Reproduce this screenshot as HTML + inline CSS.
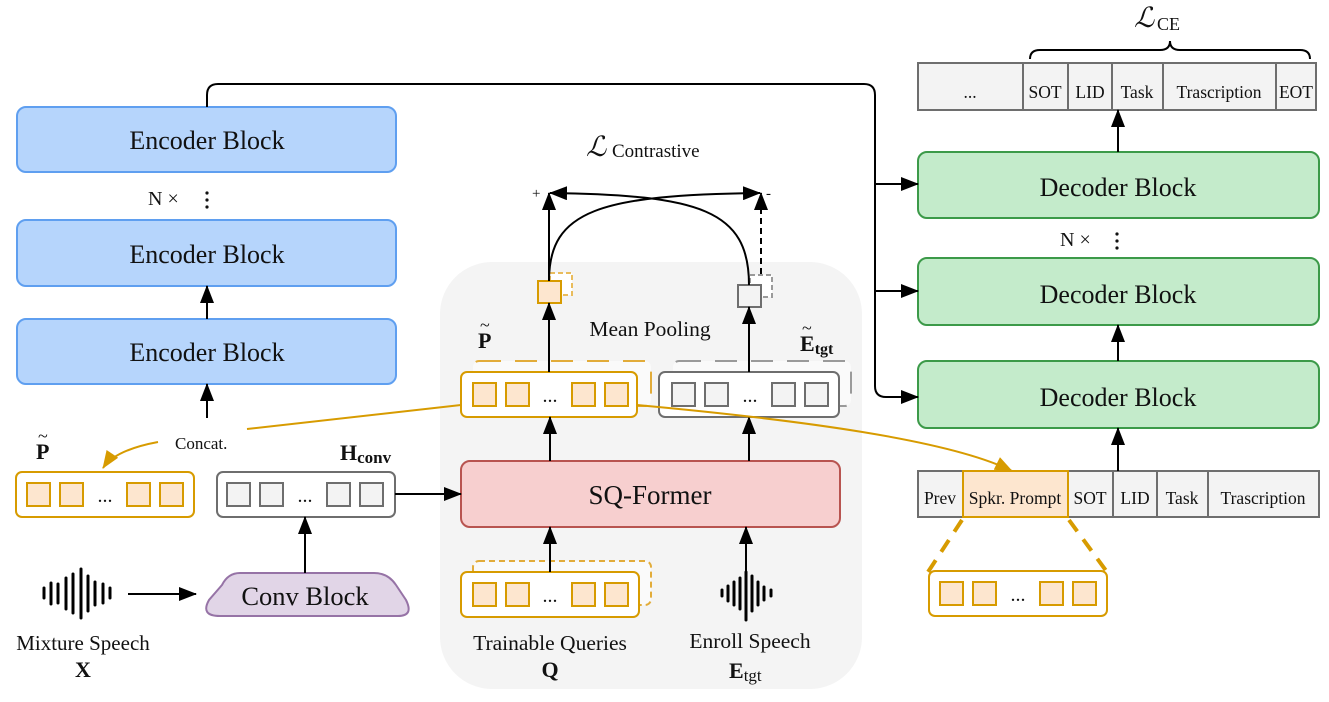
<!DOCTYPE html>
<html><head><meta charset="utf-8"><style>
html,body{margin:0;padding:0;background:#fff}
svg{display:block}
text{font-family:"Liberation Serif",serif;fill:#111}
</style></head><body>
<svg width="1329" height="702" viewBox="0 0 1329 702" xmlns="http://www.w3.org/2000/svg">
<defs>
<marker id="ab" markerWidth="18" markerHeight="14" refX="17" refY="7" orient="auto" markerUnits="userSpaceOnUse" viewBox="0 0 18 14"><path d="M0,0 L18,7 L0,14 z" fill="#000"/></marker>
<marker id="ao" markerWidth="18" markerHeight="14" refX="17" refY="7" orient="auto" markerUnits="userSpaceOnUse" viewBox="0 0 18 14"><path d="M0,0 L18,7 L0,14 z" fill="#d79b00"/></marker>
</defs>

<rect x="440" y="262" width="422" height="427" rx="52" fill="#f4f4f4"/>

<g fill="#b6d5fc" stroke="#5f9ff0" stroke-width="2">
<rect x="17" y="107" width="379" height="65" rx="9"/>
<rect x="17" y="220" width="379" height="66" rx="9"/>
<rect x="17" y="319" width="379" height="65" rx="9"/>
</g>
<g font-size="26" text-anchor="middle">
<text x="207" y="149">Encoder Block</text>
<text x="207" y="263">Encoder Block</text>
<text x="207" y="361">Encoder Block</text>
</g>
<text x="148" y="205" font-size="20">N ×</text>
<g fill="#111"><circle cx="207" cy="193" r="1.6"/><circle cx="207" cy="200" r="1.6"/><circle cx="207" cy="207" r="1.6"/></g>

<g fill="#c4ebcb" stroke="#3c9a49" stroke-width="2">
<rect x="918" y="152" width="401" height="66" rx="9"/>
<rect x="918" y="258" width="401" height="67" rx="9"/>
<rect x="918" y="361" width="401" height="67" rx="9"/>
</g>
<g font-size="26" text-anchor="middle">
<text x="1118" y="196">Decoder Block</text>
<text x="1118" y="303">Decoder Block</text>
<text x="1118" y="406">Decoder Block</text>
</g>
<text x="1060" y="246" font-size="20">N ×</text>
<g fill="#111"><circle cx="1117" cy="234" r="1.6"/><circle cx="1117" cy="241" r="1.6"/><circle cx="1117" cy="248" r="1.6"/></g>

<g fill="#f3f3f3" stroke="#6e6e6e" stroke-width="2">
<rect x="918" y="63" width="105" height="47"/>
<rect x="1023" y="63" width="45" height="47"/>
<rect x="1068" y="63" width="44" height="47"/>
<rect x="1112" y="63" width="51" height="47"/>
<rect x="1163" y="63" width="113" height="47"/>
<rect x="1276" y="63" width="40" height="47"/>
</g>
<g font-size="17.5" text-anchor="middle" fill="#333">
<text x="970" y="98" fill="#333">...</text>
<text x="1045" y="98" fill="#333">SOT</text>
<text x="1090" y="98" fill="#333">LID</text>
<text x="1137" y="98" fill="#333">Task</text>
<text x="1219" y="98" fill="#333">Trascription</text>
<text x="1296" y="98" fill="#333">EOT</text>
</g>
<path d="M1030,59 Q1030,50 1040,50 L1160,50 Q1170,50 1170,41 Q1170,50 1180,50 L1300,50 Q1310,50 1310,59" fill="none" stroke="#000" stroke-width="2"/>
<text x="1134" y="27" font-size="28" font-style="italic">ℒ</text>
<text x="1157" y="30" font-size="18">CE</text>

<g fill="#f3f3f3" stroke="#6e6e6e" stroke-width="2">
<rect x="918" y="471" width="45" height="46"/>
<rect x="1068" y="471" width="45" height="46"/>
<rect x="1113" y="471" width="44" height="46"/>
<rect x="1157" y="471" width="51" height="46"/>
<rect x="1208" y="471" width="111" height="46"/>
</g>
<rect x="963" y="471" width="105" height="46" fill="#fde6cf" stroke="#d79b00" stroke-width="2"/>
<g font-size="17.5" text-anchor="middle">
<text x="940" y="504" fill="#333">Prev</text>
<text x="1015" y="504" fill="#111">Spkr. Prompt</text>
<text x="1090" y="504" fill="#333">SOT</text>
<text x="1135" y="504" fill="#333">LID</text>
<text x="1182" y="504" fill="#333">Task</text>
<text x="1263" y="504" fill="#333">Trascription</text>
</g>
<g stroke="#d79b00" stroke-width="4" stroke-dasharray="14,10" fill="none">
<line x1="962" y1="520" x2="928" y2="572"/>
<line x1="1069" y1="520" x2="1107" y2="572"/>
</g>

<rect x="473" y="361" width="178" height="45" rx="6" fill="#fafafa" stroke="#e2ac3a" stroke-width="2" stroke-dasharray="22,14"/>
<rect x="673" y="361" width="178" height="45" rx="6" fill="#fafafa" stroke="#9a9a9a" stroke-width="2" stroke-dasharray="22,14"/>
<rect x="473" y="561" width="178" height="44" rx="6" fill="#fafafa" stroke="#e2ac3a" stroke-width="2" stroke-dasharray="6,4"/>

<g stroke="#d79b00" stroke-width="2">
 <rect x="461" y="372" width="176" height="45" rx="6" fill="#fff"/>
 <rect x="461" y="572" width="178" height="45" rx="6" fill="#fff"/>
 <rect x="16" y="472" width="178" height="45" rx="6" fill="#fff"/>
 <rect x="929" y="571" width="178" height="45" rx="6" fill="#fff"/>
 <g fill="#fde6cf">
  <rect x="473" y="383" width="23" height="23"/><rect x="506" y="383" width="23" height="23"/><rect x="572" y="383" width="23" height="23"/><rect x="605" y="383" width="23" height="23"/>
  <rect x="473" y="583" width="23" height="23"/><rect x="506" y="583" width="23" height="23"/><rect x="572" y="583" width="23" height="23"/><rect x="605" y="583" width="23" height="23"/>
  <rect x="27" y="483" width="23" height="23"/><rect x="60" y="483" width="23" height="23"/><rect x="127" y="483" width="23" height="23"/><rect x="160" y="483" width="23" height="23"/>
  <rect x="940" y="582" width="23" height="23"/><rect x="973" y="582" width="23" height="23"/><rect x="1040" y="582" width="23" height="23"/><rect x="1073" y="582" width="23" height="23"/>
 </g>
</g>
<g font-size="20" text-anchor="middle">
<text x="550" y="402" fill="#d79b00">...</text>
<text x="550" y="602" fill="#d79b00">...</text>
<text x="105" y="502" fill="#d79b00">...</text>
<text x="1018" y="601" fill="#d79b00">...</text>
</g>

<g stroke="#6e6e6e" stroke-width="2">
 <rect x="659" y="372" width="180" height="45" rx="6" fill="#fff"/>
 <rect x="217" y="472" width="178" height="45" rx="6" fill="#fff"/>
 <g fill="#f3f3f3">
  <rect x="672" y="383" width="23" height="23"/><rect x="705" y="383" width="23" height="23"/><rect x="772" y="383" width="23" height="23"/><rect x="805" y="383" width="23" height="23"/>
  <rect x="227" y="483" width="23" height="23"/><rect x="260" y="483" width="23" height="23"/><rect x="327" y="483" width="23" height="23"/><rect x="360" y="483" width="23" height="23"/>
 </g>
</g>
<g font-size="20" text-anchor="middle">
<text x="750" y="402" fill="#6e6e6e">...</text>
<text x="305" y="502" fill="#6e6e6e">...</text>
</g>

<rect x="461" y="461" width="379" height="66" rx="9" fill="#f7cfcf" stroke="#b85450" stroke-width="2"/>
<text x="650" y="504" font-size="27" text-anchor="middle">SQ-Former</text>

<path d="M240,573 L374,573 Q388,573 396,585 L406,600 Q414,616 398,616 L220,616 Q200,616 209,600 L222,585 Q228,573 240,573 z" fill="#e1d5e7" stroke="#9673a6" stroke-width="2"/>
<text x="305" y="605" font-size="26.5" text-anchor="middle">Conv Block</text>

<rect x="550" y="273" width="22" height="22" fill="#fff" stroke="#e9bc5c" stroke-width="2" stroke-dasharray="5,3"/>
<rect x="538" y="281" width="23" height="22" fill="#fde6cf" stroke="#d79b00" stroke-width="2"/>
<rect x="750" y="275" width="22" height="22" fill="#fff" stroke="#9a9a9a" stroke-width="2" stroke-dasharray="5,3"/>
<rect x="738" y="285" width="23" height="22" fill="#f3f3f3" stroke="#6e6e6e" stroke-width="2"/>
<text x="650" y="336" font-size="21.5" text-anchor="middle">Mean Pooling</text>

<text x="478" y="348" font-size="22" font-weight="bold">P</text><text x="480" y="331" font-size="18">~</text>
<text x="800" y="351" font-size="22" font-weight="bold">E<tspan font-size="16" dy="3">tgt</tspan></text><text x="802" y="334" font-size="18">~</text>
<text x="36" y="459" font-size="22" font-weight="bold">P</text><text x="38" y="442" font-size="18">~</text>
<text x="340" y="460" font-size="22" font-weight="bold">H<tspan font-size="17" dy="3">conv</tspan></text>
<text x="175" y="449" font-size="17">Concat.</text>
<text x="586" y="156" font-size="28" font-style="italic">ℒ</text>
<text x="612" y="157" font-size="19">Contrastive</text>
<text x="532" y="198" font-size="15">+</text>
<text x="766" y="198" font-size="15">-</text>
<text x="83" y="650" font-size="21" text-anchor="middle">Mixture Speech</text>
<text x="83" y="677" font-size="22" font-weight="bold" text-anchor="middle">X</text>
<text x="550" y="650" font-size="21.5" text-anchor="middle">Trainable Queries</text>
<text x="550" y="677" font-size="22" font-weight="bold" text-anchor="middle">Q</text>
<text x="750" y="648" font-size="21.5" text-anchor="middle">Enroll Speech</text>
<text x="729" y="678" font-size="22" font-weight="bold">E<tspan font-size="17" font-weight="normal" dy="3">tgt</tspan></text>

<g stroke="#000" stroke-width="3" stroke-linecap="round">
<line x1="44" y1="588" x2="44" y2="598"/><line x1="51" y1="583" x2="51" y2="604"/><line x1="58" y1="584" x2="58" y2="603"/>
<line x1="66" y1="578" x2="66" y2="609"/><line x1="73" y1="574" x2="73" y2="613"/><line x1="81" y1="569" x2="81" y2="618"/>
<line x1="88" y1="576" x2="88" y2="611"/><line x1="95" y1="582" x2="95" y2="605"/><line x1="103" y1="584" x2="103" y2="603"/><line x1="110" y1="588" x2="110" y2="598"/>
<line x1="722" y1="590" x2="722" y2="596"/><line x1="728" y1="586" x2="728" y2="601"/><line x1="734" y1="582" x2="734" y2="605"/>
<line x1="740" y1="578" x2="740" y2="609"/><line x1="746" y1="572" x2="746" y2="620"/><line x1="752" y1="576" x2="752" y2="611"/>
<line x1="758" y1="582" x2="758" y2="605"/><line x1="764" y1="587" x2="764" y2="600"/><line x1="771" y1="590" x2="771" y2="596"/>
</g>

<g stroke="#000" stroke-width="2" fill="none">
<line x1="207" y1="319" x2="207" y2="286" marker-end="url(#ab)"/>
<line x1="207" y1="418" x2="207" y2="384" marker-end="url(#ab)"/>
<line x1="305" y1="573" x2="305" y2="517" marker-end="url(#ab)"/>
<line x1="128" y1="594" x2="196" y2="594" marker-end="url(#ab)"/>
<line x1="395" y1="494" x2="461" y2="494" marker-end="url(#ab)"/>
<line x1="550" y1="572" x2="550" y2="527" marker-end="url(#ab)"/>
<line x1="746" y1="585" x2="746" y2="527" marker-end="url(#ab)"/>
<line x1="550" y1="461" x2="550" y2="417" marker-end="url(#ab)"/>
<line x1="749" y1="461" x2="749" y2="417" marker-end="url(#ab)"/>
<line x1="549" y1="372" x2="549" y2="303" marker-end="url(#ab)"/>
<line x1="749" y1="372" x2="749" y2="307" marker-end="url(#ab)"/>
<line x1="549" y1="281" x2="549" y2="193" marker-end="url(#ab)"/>
<line x1="761" y1="274" x2="761" y2="193" stroke-dasharray="6,4" marker-end="url(#ab)"/>
<path d="M549,281 C549,210 600,195 760,193" marker-end="url(#ab)"/>
<path d="M749,285 C749,210 700,195 550,193" marker-end="url(#ab)"/>
<path d="M207,107 L207,95 Q207,84 218,84 L864,84 Q875,84 875,95 L875,386 Q875,397 886,397 L918,397" marker-end="url(#ab)"/>
<line x1="875" y1="184" x2="918" y2="184" marker-end="url(#ab)"/>
<line x1="875" y1="291" x2="918" y2="291" marker-end="url(#ab)"/>
<line x1="1118" y1="361" x2="1118" y2="325" marker-end="url(#ab)"/>
<line x1="1118" y1="471" x2="1118" y2="428" marker-end="url(#ab)"/>
<line x1="1118" y1="152" x2="1118" y2="110" marker-end="url(#ab)"/>
</g>

<g stroke="#d79b00" stroke-width="2" fill="none">
<line x1="247" y1="429" x2="461" y2="405"/>
<path d="M158,442 Q115,450 103,468" marker-end="url(#ao)"/>
<path d="M637,405 C800,420 950,440 1012,471" marker-end="url(#ao)"/>
</g>
</svg>
</body></html>
